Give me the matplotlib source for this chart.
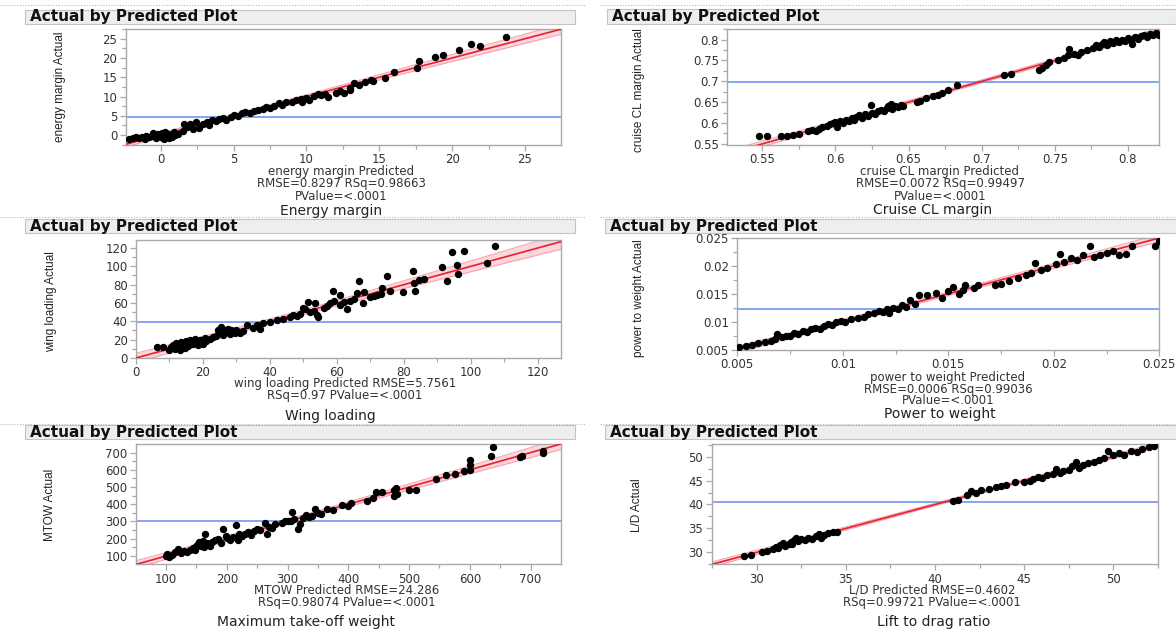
import matplotlib
matplotlib.use("Agg")
import matplotlib.pyplot as plt
import numpy as np
from matplotlib.patches import Rectangle
from matplotlib.lines import Line2D

# energy margin (predicted, actual)
em_pred = [-2.2, -1.9, -1.7, -1.5, -1.3, -1.1, -1.0, -0.8, -0.6, -0.5, -0.4, -0.3, -0.2, 0.0, 0.0,
           0.1, 0.2, 0.3, 0.3, 0.4, 0.5, 0.6, 0.8, 0.9, 1.0, 1.2, 1.5, 1.6, 1.8, 2.0, 2.2, 2.4, 2.6,
           2.9, 3.2, 3.3, 3.5, 3.8, 4.0, 4.3, 4.5, 4.8, 5.0, 5.3, 5.6, 5.8, 6.1, 6.4, 6.7, 7.0, 7.2,
           7.5, 7.8, 8.1, 8.3, 8.6, 9.0, 9.3, 9.6, 9.7, 10.0, 10.2, 10.5, 10.8, 11.0, 11.3, 11.5,
           12.0, 12.3, 12.6, 13.0, 13.0, 13.3, 13.6, 14.0, 14.4, 14.6, 15.4, 16.0, 17.6, 17.7, 18.8,
           19.4, 20.5, 21.3, 21.9, 23.7]
em_act = [-0.9, -0.8, -0.5, -0.7, -0.5, -0.9, -0.3, -0.6, -0.2, 0.5, 0.0, -0.8, 0.3, -0.5, 0.4,
          0.6, -0.9, 0.9, -0.3, -0.2, 0.3, -0.8, -0.6, 0.7, 0.1, 0.4, 1.0, 2.8, 2.2, 3.0, 1.5, 3.3, 1.8,
          2.9, 3.5, 2.5, 4.0, 3.7, 4.1, 4.4, 4.0, 4.6, 5.1, 5.0, 5.6, 5.9, 5.8, 6.3, 6.4, 6.8, 7.4,
          7.1, 7.6, 8.3, 7.8, 8.5, 8.7, 9.0, 9.4, 8.7, 9.7, 9.2, 10.1, 10.6, 10.3, 10.6, 9.9,
          10.8, 11.4, 11.0, 11.6, 12.2, 13.4, 13.1, 13.8, 14.4, 13.9, 14.9, 16.3, 17.5, 19.1, 20.2,
          20.7, 22.2, 23.7, 23.1, 25.4]

# cruise CL margin
cl_pred = [0.548, 0.553, 0.563, 0.567, 0.571, 0.575, 0.581, 0.584, 0.587, 0.589, 0.591, 0.594, 0.596,
           0.598, 0.600, 0.601, 0.603, 0.605, 0.607, 0.609, 0.611, 0.613, 0.614, 0.616, 0.618, 0.620,
           0.622, 0.624, 0.625, 0.627, 0.629, 0.631, 0.633, 0.635, 0.636, 0.638, 0.639, 0.641, 0.643,
           0.645, 0.646, 0.656, 0.658, 0.662, 0.667, 0.670, 0.673, 0.677, 0.683, 0.715, 0.720, 0.739,
           0.741, 0.744, 0.746, 0.752, 0.756, 0.759, 0.760, 0.763, 0.766, 0.768, 0.772, 0.776, 0.778,
           0.780, 0.782, 0.784, 0.786, 0.788, 0.790, 0.792, 0.794, 0.796, 0.798, 0.800, 0.802, 0.803,
           0.805, 0.807, 0.809, 0.811, 0.813, 0.815, 0.817, 0.819, 0.821]
cl_act = [0.569, 0.570, 0.568, 0.570, 0.571, 0.574, 0.581, 0.583, 0.580, 0.585, 0.590, 0.594, 0.597,
          0.600, 0.603, 0.591, 0.606, 0.601, 0.608, 0.604, 0.611, 0.608, 0.615, 0.619, 0.613, 0.622,
          0.618, 0.644, 0.625, 0.621, 0.629, 0.632, 0.628, 0.636, 0.640, 0.645, 0.634, 0.641, 0.638,
          0.643, 0.640, 0.650, 0.654, 0.660, 0.664, 0.668, 0.673, 0.679, 0.692, 0.714, 0.717, 0.728,
          0.733, 0.740, 0.746, 0.752, 0.757, 0.762, 0.778, 0.765, 0.762, 0.770, 0.775, 0.779, 0.786,
          0.782, 0.790, 0.794, 0.788, 0.796, 0.791, 0.799, 0.795, 0.800, 0.797, 0.803, 0.798, 0.789,
          0.806, 0.801, 0.808, 0.812, 0.807, 0.813, 0.810, 0.815, 0.812]

# wing loading
wl_pred = [6.2, 8.2, 10, 10.5, 11, 11.5, 12, 12.5, 13, 13.5, 14, 14.5, 15, 15.5, 16, 16.5, 17, 17.5,
           18, 18.5, 19, 19.5, 20, 20.5, 21, 22, 23, 24, 24.5, 25.5, 25, 26, 26.5, 27, 27.5, 28, 28.5,
           29, 29.5, 30, 31, 32, 33, 35, 36, 37, 38, 40, 42, 44, 46, 47, 48, 49, 50, 50.5, 51.4, 52,
           53, 53.4, 54, 54.4, 56, 57, 58, 59, 58.9, 60.9, 61, 62, 63, 64, 65, 66, 66.7, 67.9, 68, 70,
           71, 72, 73, 73.3, 74.8, 75.8, 79.8, 82.6, 83, 83.3, 84.6, 86, 91.5, 92.9, 94.2, 95.7, 96.2,
           97.9, 104.7, 107.2]
wl_act = [12, 12, 9, 12, 14, 10, 16, 12, 9, 17, 14, 11, 18, 13, 20, 16, 15, 21,
          18, 14, 20, 17, 15, 22, 19, 21, 23, 24, 30, 33.5, 27, 25, 30, 28, 32, 26, 31,
          29, 27, 30, 27, 29, 36, 33, 36, 32, 38, 39, 41, 43, 45, 47, 46, 48, 55, 53, 61, 50,
          51, 59.6, 47, 44.4, 54, 57, 60, 62, 72.7, 69, 58, 61, 53.8, 62, 64, 71, 83.6, 60, 72, 66,
          68, 68.5, 70, 76.4, 89.8, 72.7, 71.6, 94.5, 81.8, 72.7, 85.5, 86, 99.3, 84.4, 115.3, 101, 91.6,
          117, 104, 121.8]

# power to weight
pw_pred = [0.0051, 0.0054, 0.0057, 0.0060, 0.0063, 0.0066, 0.0068, 0.0069, 0.0071, 0.0073, 0.0075,
           0.0077, 0.0079, 0.0081, 0.0083, 0.0085, 0.0087, 0.0089, 0.0091, 0.0093, 0.0095, 0.0097,
           0.0099, 0.0101, 0.0104, 0.0107, 0.0110, 0.0112, 0.0115, 0.0117, 0.0119, 0.0121, 0.0122,
           0.0124, 0.0126, 0.0128, 0.0130, 0.0132, 0.0134, 0.0136, 0.0140, 0.0144, 0.0147, 0.0150,
           0.0152, 0.0155, 0.0157, 0.0158, 0.0162, 0.0164, 0.0172, 0.0175, 0.0179, 0.0183, 0.0187,
           0.0189, 0.0191, 0.0194, 0.0197, 0.0201, 0.0203, 0.0205, 0.0208, 0.0211, 0.0214, 0.0217,
           0.0219, 0.0222, 0.0225, 0.0228, 0.0231, 0.0234, 0.0237, 0.0248, 0.0250]
pw_act = [0.0055, 0.0056, 0.0058, 0.0061, 0.0063, 0.0066, 0.0068, 0.0078, 0.0072, 0.0074, 0.0075,
          0.0079, 0.0078, 0.0083, 0.0081, 0.0086, 0.0088, 0.0087, 0.0093, 0.0095, 0.0094, 0.0099,
          0.0101, 0.0099, 0.0104, 0.0107, 0.0109, 0.0114, 0.0116, 0.0119, 0.0118, 0.0122, 0.0115,
          0.0125, 0.0122, 0.0129, 0.0127, 0.0139, 0.0131, 0.0148, 0.0147, 0.0152, 0.0142, 0.0155,
          0.0163, 0.0150, 0.0157, 0.0165, 0.0160, 0.0166, 0.0165, 0.0168, 0.0173, 0.0179, 0.0184,
          0.0188, 0.0206, 0.0193, 0.0196, 0.0203, 0.0222, 0.0207, 0.0215, 0.0211, 0.0220, 0.0235,
          0.0216, 0.0219, 0.0223, 0.0226, 0.0220, 0.0221, 0.0236, 0.0236, 0.0244]

# MTOW
mt_pred = [100, 102, 105, 110, 115, 120, 125, 130, 135, 140, 145, 148, 150, 152, 155, 158, 160, 162,
           164, 168, 172, 175, 180, 185, 190, 194, 198, 200, 205, 210, 215, 218, 220, 225, 230, 235,
           240, 245, 250, 255, 262, 266, 270, 275, 280, 290, 295, 300, 305, 307, 310, 317, 320, 325,
           330, 335, 340, 345, 350, 355, 365, 375, 390, 400, 405, 430, 440, 445, 455, 475, 475, 478,
           480, 500, 512, 545, 560, 575, 590, 600, 600, 600, 635, 638, 683, 685, 720, 720]
mt_act = [98, 112, 95, 105, 120, 140, 118, 128, 125, 135, 145, 132, 155, 170, 180, 160, 185, 150,
          226, 175, 160, 180, 190, 200, 175, 257, 215, 205, 190, 210, 280, 195, 225, 215, 230, 240,
          220, 245, 255, 250, 293, 226, 270, 265, 285, 290, 300, 305, 300, 357, 315, 257, 284, 320,
          335, 325, 330, 370, 350, 345, 370, 365, 395, 390, 410, 420, 435, 470, 470, 450, 485, 495,
          460, 480, 482, 545, 570, 575, 595, 600, 625, 655, 680, 730, 672, 680, 700, 712]

# lift to drag
ld_pred = [29.3, 29.7, 30.3, 30.6, 30.9, 31.1, 31.2, 31.3, 31.5, 31.6, 31.8, 31.9, 32.0, 32.1, 32.2,
           32.3, 32.5, 32.7, 32.9, 33.1, 33.3, 33.5, 33.6, 33.8, 34.0, 34.3, 34.5, 41.0, 41.3, 41.8,
           42.0, 42.3, 42.6, 43.0, 43.4, 43.7, 44.0, 44.5, 45.0, 45.3, 45.5, 45.8, 46.0, 46.3, 46.6,
           46.8, 47.0, 47.2, 47.5, 47.7, 47.9, 48.1, 48.3, 48.6, 48.9, 49.2, 49.5, 49.7, 50.0, 50.3,
           50.6, 51.0, 51.3, 51.6, 52.0, 52.3]
ld_act = [29.3, 29.5, 30.1, 30.3, 30.7, 31.2, 30.9, 31.6, 32.0, 31.4, 31.8, 32.2, 31.7, 32.5, 33.1,
          32.3, 32.8, 32.5, 33.0, 32.8, 33.4, 33.9, 33.1, 33.6, 34.0, 34.2, 34.3, 40.8, 41.0, 42.0,
          42.8, 42.5, 43.0, 43.2, 43.6, 43.9, 44.1, 44.6, 44.8, 45.0, 45.3, 45.7, 45.5, 46.2, 46.4,
          47.4, 46.6, 47.0, 47.3, 48.0, 48.8, 47.7, 48.3, 48.6, 48.9, 49.4, 49.8, 51.1, 50.3, 50.8,
          50.4, 51.1, 51.0, 51.5, 52.0, 52.2]

# means of the actual values (blue lines)
mean_lines = [4.76, 0.6976, 39.6, 0.01235, 302, 40.49]
rmse_vals = [0.8297, 0.0072, 5.7561, 0.0006, 24.286, 0.4602]

y_names = ["energy margin Actual", "cruise CL margin Actual", "wing loading Actual",
           "power to weight Actual", "MTOW Actual", "L/D Actual"]
x_texts = [["energy margin Predicted", "RMSE=0.8297 RSq=0.98663", "PValue=<.0001"],
           ["cruise CL margin Predicted", "RMSE=0.0072 RSq=0.99497", "PValue=<.0001"],
           ["wing loading Predicted RMSE=5.7561", "RSq=0.97 PValue=<.0001"],
           ["power to weight Predicted", "RMSE=0.0006 RSq=0.99036", "PValue=<.0001"],
           ["MTOW Predicted RMSE=24.286", "RSq=0.98074 PValue=<.0001"],
           ["L/D Predicted RMSE=0.4602", "RSq=0.99721 PValue=<.0001"]]
captions = ["Energy margin", "Cruise CL margin", "Wing loading", "Power to weight",
            "Maximum take-off weight", "Lift to drag ratio"]

ticks = [[0, 5, 10, 15, 20, 25],
         [0.55, 0.6, 0.65, 0.7, 0.75, 0.8],
         [0, 20, 40, 60, 80, 100, 120],
         [0.005, 0.01, 0.015, 0.02, 0.025],
         [100, 200, 300, 400, 500, 600, 700],
         [30, 35, 40, 45, 50]]
tick_labels = [["0", "5", "10", "15", "20", "25"],
               ["0.55", "0.6", "0.65", "0.7", "0.75", "0.8"],
               ["0", "20", "40", "60", "80", "100", "120"],
               ["0.005", "0.01", "0.015", "0.02", "0.025"],
               ["100", "200", "300", "400", "500", "600", "700"],
               ["30", "35", "40", "45", "50"]]
minor_step = [2.5, 0.025, 10, 0.0025, 50, 2.5]
xlims = [(-2.4, 27.45), (0.526, 0.8215), (0, 126.8), (0.005, 0.025), (50.5, 749.5), (27.48, 52.52)]
ylims = [(-2.5, 27.6), (0.548, 0.8255), (0, 129), (0.00497, 0.025), (51.5, 748), (27.5, 52.58)]

data = [(em_pred, em_act), (cl_pred, cl_act), (wl_pred, wl_act),
        (pw_pred, pw_act), (mt_pred, mt_act), (ld_pred, ld_act)]

# layout, in pixels of the 1176x632 picture
W, H = 1176, 632
axes_px = [(125.7, 28.7, 560.7, 144.7), (727.3, 29, 1159.3, 144.7),
           (136, 239.7, 560.7, 358), (737.3, 238, 1159.3, 349.7),
           (136, 444.3, 560.7, 564.3), (711.7, 444.3, 1158.3, 564.3)]
header_px = [(25, 10, 575, 24), (607, 9, 1176, 24),
             (25, 219, 575, 233), (605, 219, 1176, 233),
             (25, 425, 575, 439), (605, 425, 1176, 439)]
# x of the label block, y of its first line, line step
xlab_pos = [(341, 172, 12), (940, 172, 12), (345, 384, 12), (948, 377.5, 11.5),
            (347, 590, 12.5), (932, 590, 12.5)]
ylab_pos = [(60, 87), (639, 90), (51, 302), (639, 298), (50, 505), (637, 505)]
cap_pos = [(331, 211), (933, 210), (330, 416), (940, 414), (306, 622), (934, 622)]

fig = plt.figure(figsize=(W / 100, H / 100), dpi=100)
fig.patch.set_facecolor("white")

def fx(px):
    return px / W

def fy(py):
    return 1 - py / H

grey = "#a9a9a9"
txt = "#333333"

# dotted separators
for y in [5, 217, 424]:
    for x0, x1 in [(0, 585), (600, 1176)]:
        fig.add_artist(Line2D([fx(x0), fx(x1)], [fy(y), fy(y)], color="#b8b8b8",
                              lw=0.8, ls=(0, (1, 1.5))))

for i in range(6):
    x, y = np.array(data[i][0]), np.array(data[i][1])
    l, t, r, b = axes_px[i]
    ax = fig.add_axes([fx(l), fy(b), fx(r - l), (b - t) / H])

    # header bar
    hl, ht, hr, hb = header_px[i]
    fig.add_artist(Rectangle((fx(hl), fy(hb)), fx(hr - hl), (hb - ht) / H,
                             facecolor="#eeeeee", edgecolor="#c4c4c4", lw=0.8))
    fig.text(fx(hl + 5), fy((ht + hb) / 2), "Actual by Predicted Plot", fontsize=11,
             fontweight="bold", color="#111111", va="center", ha="left")

    # fit line (actual on predicted is y = x) with confidence curves
    xs = np.linspace(xlims[i][0], xlims[i][1], 200)
    n = len(x)
    sxx = np.sum((x - x.mean()) ** 2)
    hw = 4.5 * rmse_vals[i] * np.sqrt(1 / n + (xs - x.mean()) ** 2 / sxx)
    ax.fill_between(xs, xs - hw, xs + hw, color="#fbd6dc", lw=0, zorder=1)
    ax.plot(xs, xs + hw, color="#f3a6b3", lw=0.8, zorder=2)
    ax.plot(xs, xs - hw, color="#f3a6b3", lw=0.8, zorder=2)
    ax.plot(xs, xs, color="#e8202e", lw=1.2, zorder=3)

    ax.axhline(mean_lines[i], color="#6f97ee", lw=1.2, zorder=2)
    ax.plot(x, y, "o", ms=4.3, color="black", zorder=4)

    ax.set_xticks(ticks[i])
    ax.set_xticklabels(tick_labels[i])
    ax.set_yticks(ticks[i])
    ax.set_yticklabels(tick_labels[i])
    minors = np.arange(ticks[i][0] - minor_step[i] * 4, ticks[i][-1] + minor_step[i] * 4,
                       minor_step[i])
    ax.set_xticks(minors, minor=True)
    ax.set_yticks(minors, minor=True)
    ax.set_xlim(*xlims[i])
    ax.set_ylim(*ylims[i])
    ax.tick_params(which="major", length=4.5, width=0.9, color=grey, labelsize=8.5,
                   labelcolor=txt, pad=1.5)
    ax.tick_params(which="minor", length=3, width=0.9, color=grey)
    for s in ax.spines.values():
        s.set_color(grey)
        s.set_linewidth(1.0)

    cx, y0, step = xlab_pos[i]
    for k, line in enumerate(x_texts[i]):
        fig.text(fx(cx), fy(y0 + k * step), line, fontsize=8.5, color=txt,
                 ha="center", va="center")
    fig.text(fx(ylab_pos[i][0]), fy(ylab_pos[i][1]), y_names[i], fontsize=8.5,
             family=["Liberation Sans", "DejaVu Sans"], color="#222222",
             rotation=90, ha="center", va="center")
    fig.text(fx(cap_pos[i][0]), fy(cap_pos[i][1]), captions[i], fontsize=10,
             color="#222222", ha="center", va="center")

fig.savefig("out.png", dpi=100)
